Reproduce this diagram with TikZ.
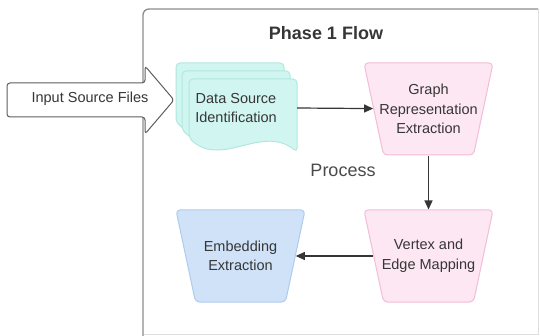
\documentclass[tikz,border=0pt]{standalone}
\usepackage{fontspec}
\setmainfont{Liberation Sans}
\usetikzlibrary{shapes.geometric}
\usetikzlibrary{arrows.meta}

\definecolor{tealfill}{HTML}{D1F6F1}
\definecolor{tealline}{HTML}{AEE8DF}
\definecolor{pinkfill}{HTML}{FDE7F3}
\definecolor{pinkline}{HTML}{F3BCD8}
\definecolor{bluefill}{HTML}{CFE2F8}
\definecolor{blueline}{HTML}{AECBEE}
\definecolor{inktext}{HTML}{363636}
\definecolor{frameline}{HTML}{8C8C8C}

\tikzset{
  trap/.style={trapezium, trapezium angle=78, shape border rotate=180,
    inner xsep=45pt, inner ysep=46pt, rounded corners=4pt, line width=1pt},
  boxtext/.style={align=center, text=inktext, font=\fontsize{14.5}{19.5}\selectfont},
  doc/.style={fill=tealfill, draw=tealline, line width=1pt, rounded corners=4pt},
  flow/.style={draw=inktext, line width=1.2pt, -{Triangle[length=9pt,width=8pt]}},
}

\begin{document}
\begin{tikzpicture}[x=1pt, y=-1pt]
    \useasboundingbox (0,0) rectangle (540,336);
    % frame
    \draw[gray!25, line width=1pt] (538,9) -- (538,334) -- (143,334);
    \draw[frameline, line width=1.3pt, rounded corners=6pt] (143,336) -- (143,9) -- (538,9);
    \node[font=\bfseries\fontsize{18}{20}\selectfont, text=inktext] (title) at (326,33) {Phase 1 Flow};
    % input arrow
    \draw[fill=white, draw=inktext!80, line width=1pt, rounded corners=3pt] (7,83) -- (145,83) -- (145,66) -- (174,100) -- (145,134) -- (145,117) -- (7,117) -- cycle;
    \node[boxtext] (input) at (90,99) {Input Source Files};
    % stacked documents
    \foreach \dx/\dy in {13/16, 7/8, 0/0}
        \draw[doc, shift={(-\dx,-\dy)}] (189,138) -- (189,79) -- (297,79) -- (297,152) .. controls (262,124) and (222,168) .. (189,138) -- cycle;
    \node[boxtext, minimum width=122pt, minimum height=60pt] (source) at (236,108) {Data Source\\Identification};
    % steps
    \node[trap, fill=pinkfill, draw=pinkline] (graph) at (428.5,109) {};
    \node[boxtext] (graphtext) at (graph) {Graph\\Representation\\Extraction};
    \node[trap, fill=pinkfill, draw=pinkline] (vertex) at (428.5,256) {};
    \node[boxtext] (vertextext) at (vertex) {Vertex and\\Edge Mapping};
    \node[trap, fill=bluefill, draw=blueline] (embed) at (240.5,256) {};
    \node[boxtext] (embedtext) at (embed) {Embedding\\Extraction};
    \node[text=inktext!90, font=\fontsize{18}{20}\selectfont] (process) at (343,170) {Process};
    % connectors
    \draw[flow] (source.east) -- (graph);
    \draw[flow] (graph) -- (vertex);
    \draw[flow] (vertex) -- (embed);
\end{tikzpicture}
\end{document}
